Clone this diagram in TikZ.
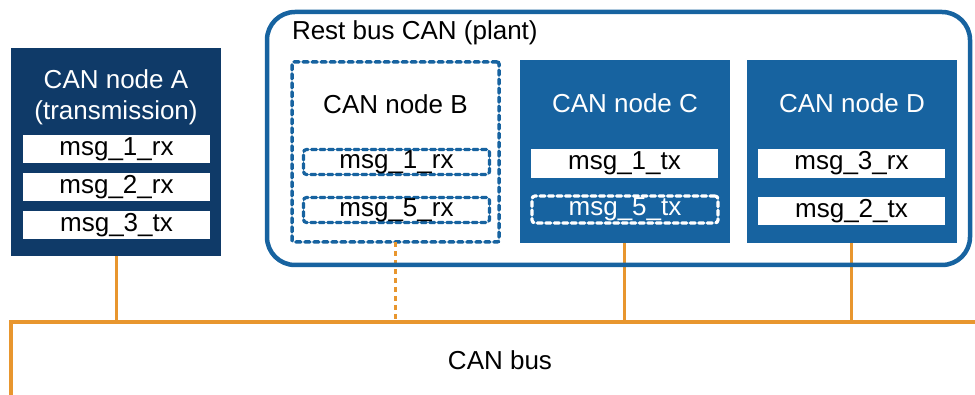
\documentclass[tikz,border=0pt]{standalone}
\usepackage{fontspec}
\setmainfont{Liberation Sans}
\definecolor{navy}{HTML}{0F3A68}
\definecolor{nodeblue}{HTML}{1763A0}
\definecolor{busorange}{HTML}{E8962E}
\begin{document}
\begin{tikzpicture}[x=1pt,y=-1pt,
  every node/.style={font=\fontsize{26}{31}\selectfont, inner sep=0pt, outer sep=0pt},
  ecu/.style={rectangle, fill=#1, text=white},
  msgbox/.style={rectangle, fill=white, text=black, minimum width=187pt, minimum height=28pt},
  dmsg/.style={rectangle, draw=nodeblue, line width=3.2pt, dash pattern=on 5pt off 3.5pt, rounded corners=3pt, line cap=round, minimum width=186pt, minimum height=25pt},
  wdmsg/.style={rectangle, draw=white, text=white, line width=3.2pt, dash pattern=on 5pt off 3.5pt, rounded corners=3pt, line cap=round, minimum width=186pt, minimum height=27pt},
  bus/.style={draw=busorange, line width=4pt},
  drop/.style={draw=busorange, line width=3pt},
  title/.style={text=white}
]
\useasboundingbox (0,0) rectangle (975,395);

% bus coordinates
\coordinate (busB) at (11,396);
\coordinate (busL) at (11,322);
\coordinate (busR) at (976,322);

% Node A
\node[ecu=navy, minimum width=210pt, minimum height=208pt] (A) at (116,152) {};
\node[title, align=center] (Atitle) at (116,97) {CAN node A\\(transmission)};
\node[msgbox] (A1) at (116.5,149) {msg\_1\_rx};
\node[msgbox] (A2) at (116.5,187) {msg\_2\_rx};
\node[msgbox] (A3) at (116.5,225) {msg\_3\_tx};

% Node C
\node[ecu=nodeblue, minimum width=210pt, minimum height=183pt] (C) at (625,151.5) {};
\node[title] (Ctitle) at (625,103) {CAN node C};
\node[msgbox, minimum height=29pt] (C1) at (624.5,163.5) {msg\_1\_tx};
\node[wdmsg] (C5) at (625,209.5) {msg\_5\_tx};

% Node D
\node[ecu=nodeblue, minimum width=210pt, minimum height=183pt] (D) at (852,151.5) {};
\node[title] (Dtitle) at (852,103) {CAN node D};
\node[msgbox, minimum height=29pt] (D1) at (851.5,163.5) {msg\_3\_rx};
\node[msgbox] (D2) at (851.5,211) {msg\_2\_tx};

% Node B (virtual)
\node[rectangle, draw=nodeblue, line width=3.5pt, dash pattern=on 5pt off 4pt, line cap=round, rounded corners=2pt, minimum width=207pt, minimum height=180pt] (B) at (395.5,152) {};
\node (Btitle) at (395.5,104) {CAN node B};
\node[dmsg] (B1) at (396.5,162) {msg\_1\_rx};
\node[dmsg] (B5) at (396.5,210) {msg\_5\_rx};

% drops
\draw[drop] (A.south) -- (A.south |- busL);
\draw[drop, dash pattern=on 5pt off 4pt] (B.south) -- (B.south |- busL);
\draw[drop] ([xshift=-1pt]C.south) -- ([xshift=-1pt]C.south |- busL);
\draw[drop] ([xshift=-1pt]D.south) -- ([xshift=-1pt]D.south |- busL);

% Rest bus frame
\node[rectangle, draw=nodeblue, line width=4.5pt, rounded corners=28pt, minimum width=703pt, minimum height=253pt] (R) at (618.5,138.5) {};
\node[anchor=west] (Rtitle) at (292,33) {Rest bus CAN (plant)};

% bus
\draw[bus] (busB) -- (busL) -- (busR);
\node (bustext) at (500,360) {CAN bus};
\end{tikzpicture}
\end{document}
